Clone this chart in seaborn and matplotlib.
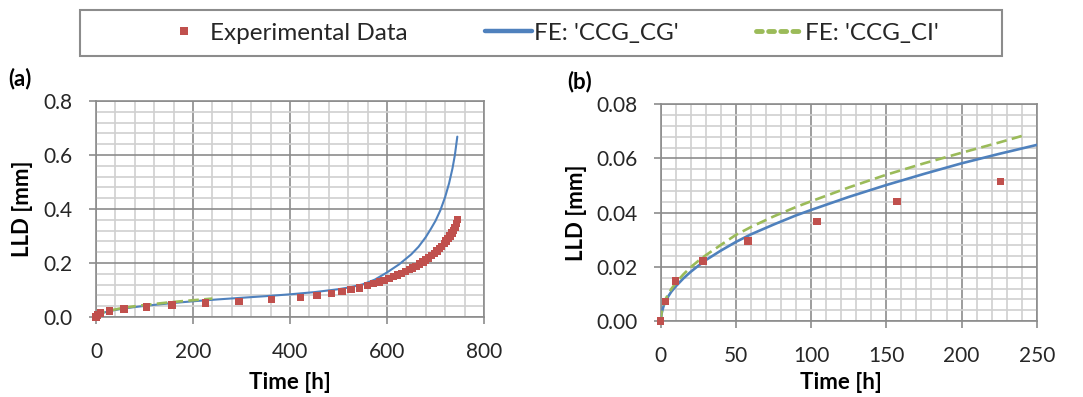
import numpy as np
import pandas as pd
import matplotlib
matplotlib.use("Agg")
import matplotlib.pyplot as plt
import seaborn as sns
from matplotlib.lines import Line2D
from matplotlib.patches import Rectangle
from matplotlib.ticker import MultipleLocator, FormatStrFormatter

# ---------------- data ----------------
exp_time = [0, 3, 10, 28, 58, 104, 157, 226, 295, 362, 422, 456, 485, 507, 526,
            543, 560, 572, 584, 594, 604, 613, 622, 630, 638, 646, 653, 660, 667,
            674, 680, 686, 692, 698, 703, 708, 713, 718, 722, 726, 730, 734, 737,
            740, 743, 745]
exp_lld = [0.0, 0.0071, 0.0148, 0.0222, 0.0295, 0.0367, 0.0442, 0.0516, 0.058,
           0.066, 0.073, 0.079, 0.088, 0.095, 0.103, 0.108, 0.116, 0.123, 0.130,
           0.136, 0.143, 0.150, 0.156, 0.162, 0.168, 0.175, 0.181, 0.188, 0.196,
           0.204, 0.211, 0.219, 0.227, 0.236, 0.244, 0.253, 0.262, 0.272, 0.281,
           0.290, 0.300, 0.311, 0.321, 0.332, 0.346, 0.360]

cg_time = [0, 0.5, 1, 2, 3, 5, 7, 10, 15, 20, 25, 30, 40, 50, 60, 75, 90, 100,
           125, 150, 175, 200, 225, 250, 300, 350, 400, 450, 500, 525, 550, 575,
           600, 625, 650, 665, 680, 690, 700, 710, 720, 728, 735, 740, 745]
cg_lld = [0.0, 0.0025, 0.0038, 0.0057, 0.0071, 0.0091, 0.0108, 0.0128, 0.0157,
          0.0182, 0.0204, 0.0225, 0.0260, 0.0292, 0.0320, 0.0356, 0.0390, 0.0410,
          0.0458, 0.0502, 0.0543, 0.0582, 0.0617, 0.0650, 0.0712, 0.0772, 0.0840,
          0.0920, 0.1030, 0.1105, 0.1210, 0.1385, 0.1650, 0.1950, 0.2320, 0.2600,
          0.2960, 0.3250, 0.3560, 0.3950, 0.4450, 0.4950, 0.5500, 0.6000, 0.6680]

ci_time = [0, 0.5, 1, 2, 3, 5, 7, 10, 15, 20, 25, 30, 40, 50, 60, 75, 90, 100,
           125, 150, 175, 200, 225, 240]
ci_lld = [0.0, 0.0029, 0.0043, 0.0063, 0.0078, 0.0100, 0.0118, 0.0140, 0.0172,
          0.0199, 0.0222, 0.0243, 0.0281, 0.0318, 0.0347, 0.0386, 0.0421, 0.0442,
          0.0493, 0.0540, 0.0582, 0.0621, 0.0659, 0.0683]

series_labels = ["Experimental Data", "FE: 'CCG_CG'", "FE: 'CCG_CI'"]
panel_labels = ["(a)", "(b)"]
x_label = "Time [h]"
y_label = "LLD [mm]"

# ---------------- styling ----------------
RED = "#C0504D"
BLUE = "#4F81BD"
GREEN = "#9BBB59"
MAJ = "#8C8C8C"
MIN = "#D0D0D0"
TXT = "#262626"

sns.set_theme(style="white")
plt.rcParams['font.family'] = ['Lato', 'DejaVu Sans']

exp_df = pd.DataFrame({"t": exp_time, "lld": exp_lld})
cg_df = pd.DataFrame({"t": cg_time, "lld": cg_lld})
ci_df = pd.DataFrame({"t": ci_time, "lld": ci_lld})

fig = plt.figure(figsize=(10.83, 3.97), dpi=100)
ax_a = fig.add_axes([0.0886, 0.2015, 0.3583, 0.5441])
ax_b = fig.add_axes([0.6101, 0.1914, 0.3472, 0.5459])

configs = [
    (ax_a, 800, 0.8, 200, 40, 0.2, 0.04, '%.1f', 1.5, (-0.162, 0.5), (0.5, -0.255)),
    (ax_b, 250, 0.08, 50, 10, 0.02, 0.004, '%.2f', 1.9, (-0.197, 0.5), (0.48, -0.235)),
]

for ax, xmax, ymax, xmaj, xmin_, ymaj, ymin_, yfmt, blw, ylc, xlc in configs:
    e = exp_df[exp_df["t"] <= xmax]
    sns.lineplot(data=cg_df, x="t", y="lld", ax=ax, color=BLUE, lw=blw,
                 sort=False, estimator=None, legend=False, zorder=3)
    sns.lineplot(data=ci_df, x="t", y="lld", ax=ax, color=GREEN, lw=1.9,
                 sort=False, estimator=None, legend=False, zorder=4,
                 linestyle=(0, (4, 2)))
    sns.scatterplot(data=e, x="t", y="lld", ax=ax, marker='s', s=28, color=RED,
                    edgecolor='none', linewidth=0, zorder=5, clip_on=False,
                    legend=False)
    ax.set_xlim(0, xmax)
    ax.set_ylim(0, ymax)
    ax.xaxis.set_major_locator(MultipleLocator(xmaj))
    ax.xaxis.set_minor_locator(MultipleLocator(xmin_))
    ax.yaxis.set_major_locator(MultipleLocator(ymaj))
    ax.yaxis.set_minor_locator(MultipleLocator(ymin_))
    ax.yaxis.set_major_formatter(FormatStrFormatter(yfmt))
    ax.xaxis.set_major_formatter(FormatStrFormatter('%d'))
    ax.grid(which='minor', color=MIN, lw=1.2, zorder=0)
    ax.grid(which='major', color=MAJ, lw=1.2, zorder=1)
    ax.set_axisbelow(True)
    for sp in ax.spines.values():
        sp.set_color(MAJ)
        sp.set_linewidth(1.2)
    ax.tick_params(which='major', direction='out', length=5, width=1.2,
                   color=MAJ, labelsize=15, labelcolor=TXT, bottom=True, left=True)
    ax.tick_params(axis='x', which='major', pad=13)
    ax.tick_params(axis='y', which='major', pad=12)
    ax.tick_params(which='minor', length=0)
    ax.set_xlabel(x_label, fontsize=16, fontweight='bold', color='black')
    ax.set_ylabel(y_label, fontsize=16, fontweight='bold', color='black')
    ax.yaxis.set_label_coords(*ylc)
    ax.xaxis.set_label_coords(*xlc)

fig.text(8 / 1083, 1 - 79 / 397, panel_labels[0], fontsize=16, fontweight='bold',
         ha='left', va='center', color='black')
fig.text(567 / 1083, 1 - 82 / 397, panel_labels[1], fontsize=16, fontweight='bold',
         ha='left', va='center', color='black')

# legend box
fig.patches.append(Rectangle((80 / 1083, 1 - 56 / 397), 922 / 1083, 46 / 397,
                             transform=fig.transFigure, facecolor='white',
                             edgecolor=MAJ, lw=1.5, zorder=0))
handles = [
    Line2D([], [], linestyle='none', marker='s', markersize=5.8, color=RED,
           markeredgewidth=0),
    Line2D([], [], color=BLUE, lw=3.2),
    Line2D([], [], color=GREEN, lw=3.5, linestyle=(0, (1.2, 1.3)),
           dash_capstyle='round'),
]
leg = fig.legend(handles, series_labels, loc='center', ncol=3,
                 bbox_to_anchor=(550 / 1083, 1 - 33 / 397), frameon=False,
                 fontsize=17.5, handlelength=1.9, handletextpad=0.1,
                 columnspacing=3.2, labelcolor=TXT)

fig.savefig("out.png", dpi=100)
